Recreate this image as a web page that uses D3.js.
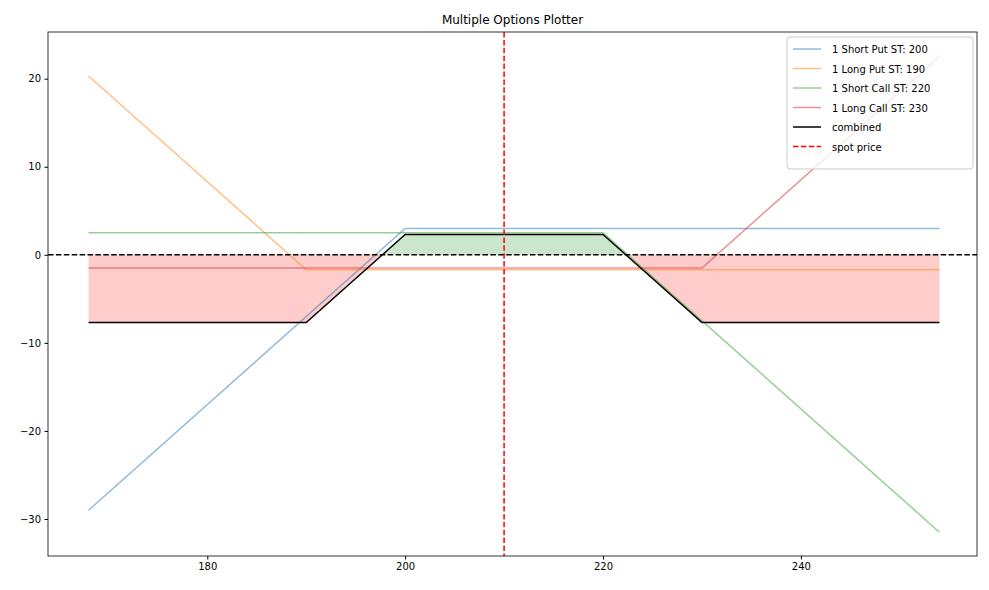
<!DOCTYPE html>
<html>
<head>
<meta charset="utf-8">
<script src="https://cdn.jsdelivr.net/npm/d3@7"></script>
<style>
  body { margin: 0; background: white; font-family: "DejaVu Sans", sans-serif; }
</style>
</head>
<body>
<div id="chart"></div>
<script>
// payoff lines at their kinks
const shortPut200 = [[168, -29], [200, 3], [254, 3]]
const longPut190 = [[168, 20.3], [190, -1.7], [254, -1.7]]
const shortCall220 = [[168, 2.5], [220, 2.5], [254, -31.5]]
const longCall230 = [[168, -1.5], [230, -1.5], [254, 22.5]]
const combined = [[168, -7.7], [190, -7.7], [197.7, 0], [200, 2.3], [220, 2.3], [222.3, 0], [230, -7.7], [254, -7.7]]
const spotPrice = 210
const xTicks = [180, 200, 220, 240]
const yTicks = [-30, -20, -10, 0, 10, 20]

const series = [
  {name: "1 Short Put ST: 200", pts: shortPut200, color: "#1f77b4"},
  {name: "1 Long Put ST: 190", pts: longPut190, color: "#ff7f0e"},
  {name: "1 Short Call ST: 220", pts: shortCall220, color: "#2ca02c"},
  {name: "1 Long Call ST: 230", pts: longCall230, color: "#d62728"}
]

const W = 989, H = 590
const margin = {top: 32, right: 12, bottom: 34, left: 48}

const svg = d3.select("#chart").append("svg")
  .attr("width", W).attr("height", H)

const x = d3.scaleLinear().domain([163.9, 257.8]).range([margin.left, W - margin.right])
const y = d3.scaleLinear().domain([-34.2, 25.3]).range([H - margin.bottom, margin.top])

// fills between 0 and combined
const areaPos = d3.area().x(d => x(d[0])).y0(y(0)).y1(d => y(Math.max(d[1], 0)))
const areaNeg = d3.area().x(d => x(d[0])).y0(y(0)).y1(d => y(Math.min(d[1], 0)))
svg.append("path").attr("d", areaPos(combined)).attr("fill", "green").attr("opacity", 0.2)
svg.append("path").attr("d", areaNeg(combined)).attr("fill", "red").attr("opacity", 0.2)

const line = d3.line().x(d => x(d[0])).y(d => y(d[1]))
series.forEach(s => {
  svg.append("path").attr("d", line(s.pts)).attr("fill", "none")
    .attr("stroke", s.color).attr("stroke-opacity", 0.5).attr("stroke-width", 1.5)
})
svg.append("path").attr("d", line(combined)).attr("fill", "none")
  .attr("stroke", "black").attr("stroke-width", 1.5)

// zero line and spot line
svg.append("line").attr("x1", margin.left).attr("x2", W - margin.right)
  .attr("y1", y(0)).attr("y2", y(0))
  .attr("stroke", "black").attr("stroke-width", 1.5).attr("stroke-dasharray", "5.5,2.4")
svg.append("line").attr("x1", x(spotPrice)).attr("x2", x(spotPrice))
  .attr("y1", margin.top).attr("y2", H - margin.bottom)
  .attr("stroke", "red").attr("stroke-width", 1.5).attr("stroke-dasharray", "5.5,2.4")

// axes
svg.append("g").attr("transform", "translate(0," + (H - margin.bottom) + ")")
  .call(d3.axisBottom(x).tickValues(xTicks).tickSize(3.5).tickPadding(3.5))
svg.append("g").attr("transform", "translate(" + margin.left + ",0)")
  .call(d3.axisLeft(y).tickValues(yTicks).tickFormat(d => d < 0 ? "\u2212" + Math.abs(d) : d).tickSize(3.5).tickPadding(3.5))
svg.selectAll(".domain").remove()
svg.selectAll(".tick text").attr("font-size", 10).attr("fill", "black").attr("font-family", "DejaVu Sans")
svg.append("rect").attr("x", margin.left).attr("y", margin.top)
  .attr("width", W - margin.left - margin.right).attr("height", H - margin.top - margin.bottom)
  .attr("fill", "none").attr("stroke", "black").attr("stroke-width", 0.8)

svg.append("text").attr("x", (margin.left + W - margin.right) / 2).attr("y", margin.top - 8)
  .attr("text-anchor", "middle").attr("font-size", 12).text("Multiple Options Plotter")

// legend
const legendItems = series.map(s => ({name: s.name, color: s.color, op: 0.5, dash: null}))
  .concat([{name: "combined", color: "black", op: 1, dash: null},
           {name: "spot price", color: "red", op: 1, dash: "5.5,2.4"}])
const lg = svg.append("g").attr("transform", "translate(787,37)")
lg.append("rect").attr("width", 186).attr("height", 132).attr("rx", 3)
  .attr("fill", "white").attr("fill-opacity", 0.8).attr("stroke", "#ccc")
legendItems.forEach((d, i) => {
  const yy = 12 + i * 19.5
  lg.append("line").attr("x1", 6).attr("x2", 34).attr("y1", yy).attr("y2", yy)
    .attr("stroke", d.color).attr("stroke-opacity", d.op).attr("stroke-width", 1.5)
    .attr("stroke-dasharray", d.dash)
  lg.append("text").attr("x", 45).attr("y", yy + 4).attr("font-size", 10).text(d.name)
})
</script>
</body>
</html>
